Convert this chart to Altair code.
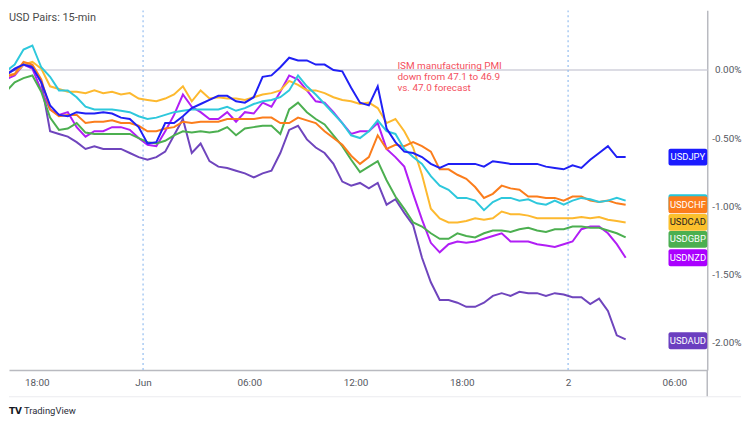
import altair as alt
import pandas as pd

# ---------------- data ----------------
# 30-minute samples, 31 May 16:15 -> 2 Jun 03:15
times = pd.date_range("2023-05-31 16:15", periods=71, freq="30min")
hours = ((times - pd.Timestamp("2023-06-01 00:00")) / pd.Timedelta(hours=1)).tolist()

usdjpy = [-0.04, 0.01, 0.04, 0.02, -0.09, -0.26, -0.33, -0.34, -0.31, -0.32,
          -0.32, -0.31, -0.32, -0.35, -0.36, -0.42, -0.54, -0.53, -0.39, -0.39,
          -0.34, -0.28, -0.25, -0.22, -0.19, -0.19, -0.23, -0.24, -0.20, -0.05,
          -0.04, 0.02, 0.09, 0.07, 0.07, 0.04, 0.04, 0.00, -0.01, -0.13,
          -0.24, -0.26, -0.12, -0.43, -0.53, -0.60, -0.61, -0.64, -0.69, -0.72,
          -0.69, -0.69, -0.69, -0.69, -0.71, -0.67, -0.68, -0.69, -0.69, -0.69,
          -0.69, -0.71, -0.72, -0.73, -0.70, -0.72, -0.66, -0.61, -0.56, -0.64, -0.64]
usdchf = [-0.05, -0.03, 0.06, 0.04, -0.07, -0.29, -0.34, -0.33, -0.33, -0.39,
          -0.38, -0.38, -0.37, -0.39, -0.39, -0.41, -0.45, -0.45, -0.43, -0.42,
          -0.38, -0.39, -0.38, -0.38, -0.38, -0.36, -0.36, -0.36, -0.36, -0.35,
          -0.35, -0.39, -0.39, -0.35, -0.37, -0.39, -0.45, -0.50, -0.55, -0.63,
          -0.69, -0.64, -0.48, -0.58, -0.55, -0.56, -0.53, -0.56, -0.60, -0.73,
          -0.73, -0.77, -0.80, -0.86, -0.94, -0.91, -0.85, -0.87, -0.88, -0.93,
          -0.93, -0.94, -0.94, -0.96, -0.93, -0.93, -0.96, -0.97, -0.96, -0.98, -0.99]
usdcad = [-0.04, -0.03, 0.04, 0.06, 0.01, -0.12, -0.14, -0.16, -0.16, -0.17,
          -0.15, -0.17, -0.16, -0.18, -0.17, -0.21, -0.22, -0.23, -0.21, -0.18,
          -0.12, -0.23, -0.15, -0.21, -0.20, -0.21, -0.21, -0.22, -0.20, -0.18,
          -0.17, -0.15, -0.08, -0.11, -0.15, -0.15, -0.17, -0.20, -0.22, -0.23,
          -0.25, -0.24, -0.28, -0.39, -0.36, -0.45, -0.57, -0.77, -1.02, -1.09,
          -1.12, -1.12, -1.11, -1.09, -1.10, -1.09, -1.04, -1.06, -1.06, -1.07,
          -1.09, -1.09, -1.09, -1.09, -1.09, -1.08, -1.09, -1.08, -1.10, -1.11, -1.12]
usdgbp = [-0.16, -0.09, -0.06, -0.04, -0.16, -0.35, -0.44, -0.43, -0.39, -0.46,
          -0.47, -0.47, -0.47, -0.47, -0.47, -0.50, -0.53, -0.54, -0.52, -0.48,
          -0.45, -0.46, -0.45, -0.46, -0.45, -0.42, -0.48, -0.43, -0.42, -0.41,
          -0.41, -0.47, -0.29, -0.24, -0.31, -0.36, -0.40, -0.48, -0.56, -0.66,
          -0.75, -0.71, -0.67, -0.81, -0.93, -1.02, -1.12, -1.15, -1.20, -1.24,
          -1.24, -1.20, -1.22, -1.23, -1.20, -1.18, -1.18, -1.19, -1.17, -1.16,
          -1.18, -1.19, -1.17, -1.17, -1.15, -1.15, -1.16, -1.16, -1.18, -1.20, -1.23]
usdnzd = [-0.07, -0.04, 0.04, 0.01, -0.15, -0.29, -0.33, -0.31, -0.42, -0.49,
          -0.45, -0.45, -0.42, -0.42, -0.44, -0.50, -0.55, -0.56, -0.45, -0.33,
          -0.18, -0.27, -0.31, -0.36, -0.36, -0.31, -0.38, -0.31, -0.32, -0.24,
          -0.27, -0.16, -0.04, -0.07, -0.15, -0.23, -0.24, -0.31, -0.39, -0.47,
          -0.45, -0.45, -0.39, -0.58, -0.64, -0.71, -0.91, -1.10, -1.27, -1.34,
          -1.28, -1.26, -1.27, -1.26, -1.24, -1.22, -1.20, -1.26, -1.26, -1.26,
          -1.28, -1.29, -1.30, -1.28, -1.26, -1.17, -1.15, -1.15, -1.20, -1.28, -1.38]
usdaud = [-0.03, 0.00, 0.04, 0.03, -0.09, -0.45, -0.47, -0.49, -0.53, -0.58,
          -0.56, -0.58, -0.58, -0.58, -0.61, -0.64, -0.66, -0.64, -0.60, -0.48,
          -0.36, -0.61, -0.54, -0.67, -0.71, -0.72, -0.74, -0.76, -0.79, -0.76,
          -0.74, -0.61, -0.44, -0.41, -0.51, -0.57, -0.61, -0.69, -0.82, -0.85,
          -0.83, -0.87, -0.83, -0.99, -0.95, -1.05, -1.14, -1.38, -1.56, -1.69,
          -1.69, -1.71, -1.74, -1.74, -1.71, -1.66, -1.64, -1.66, -1.63, -1.64,
          -1.64, -1.66, -1.64, -1.65, -1.67, -1.67, -1.72, -1.68, -1.77, -1.95, -1.98]
usdeur = [-0.01, 0.04, 0.15, 0.18, 0.02, -0.05, -0.15, -0.15, -0.20, -0.27,
          -0.29, -0.29, -0.29, -0.30, -0.31, -0.34, -0.36, -0.35, -0.33, -0.31,
          -0.30, -0.29, -0.29, -0.29, -0.29, -0.27, -0.30, -0.28, -0.25, -0.23,
          -0.22, -0.20, -0.15, -0.04, -0.12, -0.18, -0.25, -0.32, -0.39, -0.48,
          -0.50, -0.45, -0.37, -0.45, -0.47, -0.58, -0.64, -0.69, -0.78, -0.85,
          -0.88, -0.94, -0.94, -0.96, -1.03, -0.97, -0.94, -0.94, -0.96, -0.95,
          -0.98, -0.99, -0.96, -0.99, -0.96, -0.94, -0.95, -0.97, -0.96, -0.94, -0.96]

series = {
    "USDAUD": usdaud, "USDNZD": usdnzd, "USDGBP": usdgbp, "USDCAD": usdcad,
    "USDCHF": usdchf, "USDEUR": usdeur, "USDJPY": usdjpy,
}

# right-hand price labels (name, label centre in %)
label_names = ["USDJPY", "USDCHF", "USDCAD", "USDGBP", "USDNZD", "USDAUD"]
label_values = [-0.64, -0.99, -1.12, -1.245, -1.38, -1.99]
hidden_label_name = ["USDEUR"]
hidden_label_value = [-0.975]

x_tick_values = [-6, 0, 6, 12, 18, 24, 30]
x_tick_labels = ["18:00", "Jun", "06:00", "12:00", "18:00", "2", "06:00"]
y_tick_values = [0, -0.5, -1.0, -1.5, -2.0]
day_breaks = [0, 24]

chart_title = "USD Pairs: 15-min"
note_text = "ISM manufacturing PMI\ndown from 47.1 to 46.9\nvs. 47.0 forecast"
note_pos = (14.36, 0.069)

# ---------------- styling ----------------
colors = {
    "USDAUD": "#6f45bd", "USDNZD": "#b11ef5", "USDGBP": "#4caf50",
    "USDCAD": "#fdb92f", "USDCHF": "#fb7d1c", "USDEUR": "#2ec8dc",
    "USDJPY": "#2020f5",
}
label_fill = {
    "USDAUD": "#6b3fc0", "USDNZD": "#aa00ff", "USDGBP": "#4caf50",
    "USDCAD": "#fbc02d", "USDCHF": "#fb7c1c", "USDEUR": "#26c6da",
    "USDJPY": "#1b1bff",
}
label_text_color = {n: "#ffffff" for n in label_fill}
label_text_color["USDCAD"] = "#1e1e1e"

FONT = "Roboto"
W, H = 703, 362
x_dom = [-7.571, 31.857]
y_dom = [-2.204, 0.438]
AXIS_GREY = "#b9bac0"
TEXT_GREY = "#55585f"

xscale = alt.Scale(domain=x_dom, nice=False, zero=False)
yscale = alt.Scale(domain=y_dom, nice=False, zero=False)

x_label_expr = " : ".join(
    f"datum.value == {v} ? '{l}'" for v, l in zip(x_tick_values, x_tick_labels)
) + " : ''"
y_label_expr = "(datum.value < 0 ? '-' : '') + format(abs(datum.value), '.2f') + '%'"

x_axis = alt.Axis(values=x_tick_values, labelExpr=x_label_expr, title=None, grid=False,
                  ticks=False, domainColor=AXIS_GREY, domainWidth=1.5,
                  labelColor=TEXT_GREY, labelFont=FONT, labelFontSize=10,
                  labelPadding=8, labelOverlap=False, labelFlush=False)
y_axis = alt.Axis(orient="right", values=y_tick_values, labelExpr=y_label_expr,
                  title=None, grid=False, ticks=False, domainColor=AXIS_GREY,
                  domainWidth=1.5, labelColor=TEXT_GREY, labelFont=FONT,
                  labelFontSize=10, labelAlign="right", labelPadding=34,
                  labelOverlap=False, labelFlush=False)


def X(field):
    return alt.X(field, scale=xscale, axis=x_axis)


def Y(field):
    return alt.Y(field, scale=yscale, axis=y_axis)


# ---------------- layers ----------------
zero_df = pd.DataFrame({"v": [0.0]})
zero_rule = alt.Chart(zero_df).mark_rule(color="#dcdce4", strokeWidth=2).encode(
    y=Y("v:Q")
)

day_df = pd.DataFrame({"h": day_breaks})
day_rules = alt.Chart(day_df).mark_rule(color="#93bdf0", strokeWidth=1.2,
                                        strokeDash=[2, 3]).encode(
    x=X("h:Q")
)

line_layers = []
for name, vals in series.items():
    df = pd.DataFrame({"h": hours[:len(vals)], "v": vals[:len(hours)]})
    line_layers.append(
        alt.Chart(df).mark_line(color=colors[name], strokeWidth=2, clip=True).encode(
            x=X("h:Q"), y=Y("v:Q"),
        )
    )

title_df = pd.DataFrame({"t": [chart_title]})
title_mark = alt.Chart(title_df).mark_text(
    align="left", baseline="middle", font=FONT, fontSize=11, color="#4a4a4a"
).encode(x=alt.value(0), y=alt.value(8), text="t:N")

note_df = pd.DataFrame({"h": [note_pos[0]], "v": [note_pos[1]], "t": [note_text]})
note_mark = alt.Chart(note_df).mark_text(
    align="left", baseline="top", font=FONT, fontSize=10, lineHeight=11.5,
    lineBreak="\n", color="#f4505e"
).encode(x=X("h:Q"), y=Y("v:Q"), text="t:N")

HALF = 0.062


def label_frame(names, values):
    return pd.DataFrame({
        "name": names,
        "v": values,
        "v2": [v - HALF for v in values],
        "v1": [v + HALF for v in values],
        "fill": [label_fill[n] for n in names],
        "tc": [label_text_color[n] for n in names],
    })


hid_df = label_frame(hidden_label_name, hidden_label_value)
lab_df = label_frame(label_names, label_values)

hid_rect = alt.Chart(hid_df).mark_rect(cornerRadius=2).encode(
    x=alt.value(W - 39), x2=alt.value(W),
    y=Y("v1:Q"), y2="v2:Q",
    color=alt.Color("fill:N", scale=None),
)
lab_rect = alt.Chart(lab_df).mark_rect(cornerRadius=2).encode(
    x=alt.value(W - 39), x2=alt.value(W),
    y=Y("v1:Q"), y2="v2:Q",
    color=alt.Color("fill:N", scale=None),
)
lab_text = alt.Chart(lab_df).mark_text(
    align="center", baseline="middle", font=FONT, fontSize=9.5
).encode(
    x=alt.value(W - 19.5),
    y=Y("v:Q"),
    text="name:N",
    color=alt.Color("tc:N", scale=None),
)

frame_df = pd.DataFrame({"k": [0]})
right_ext = alt.Chart(frame_df).mark_rule(color=AXIS_GREY, strokeWidth=1.5).encode(
    x=alt.value(W), y=alt.value(H), y2=alt.value(H + 27)
)
bottom_line = alt.Chart(frame_df).mark_rule(color="#ebebef", strokeWidth=1).encode(
    x=alt.value(0), x2=alt.value(W + 34), y=alt.value(H + 27)
)

logo_df = pd.DataFrame({"a": ["TV"], "b": ["TradingView"]})
logo_a = alt.Chart(logo_df).mark_text(
    align="left", baseline="middle", font="DejaVu Sans", fontSize=9,
    fontWeight="bold", color="#131722"
).encode(x=alt.value(0), y=alt.value(H + 41), text="a:N")
logo_b = alt.Chart(logo_df).mark_text(
    align="left", baseline="middle", font=FONT, fontSize=9.5, color="#2a2e39"
).encode(x=alt.value(15), y=alt.value(H + 41), text="b:N")

chart = alt.layer(
    zero_rule, day_rules, *line_layers, note_mark, title_mark,
    hid_rect, lab_rect, lab_text, right_ext, bottom_line, logo_a, logo_b
).properties(
    width=W, height=H, padding=0, background="white"
).configure_view(stroke=None)

chart.save("out.html", embed_options={"renderer": "svg", "actions": False})
